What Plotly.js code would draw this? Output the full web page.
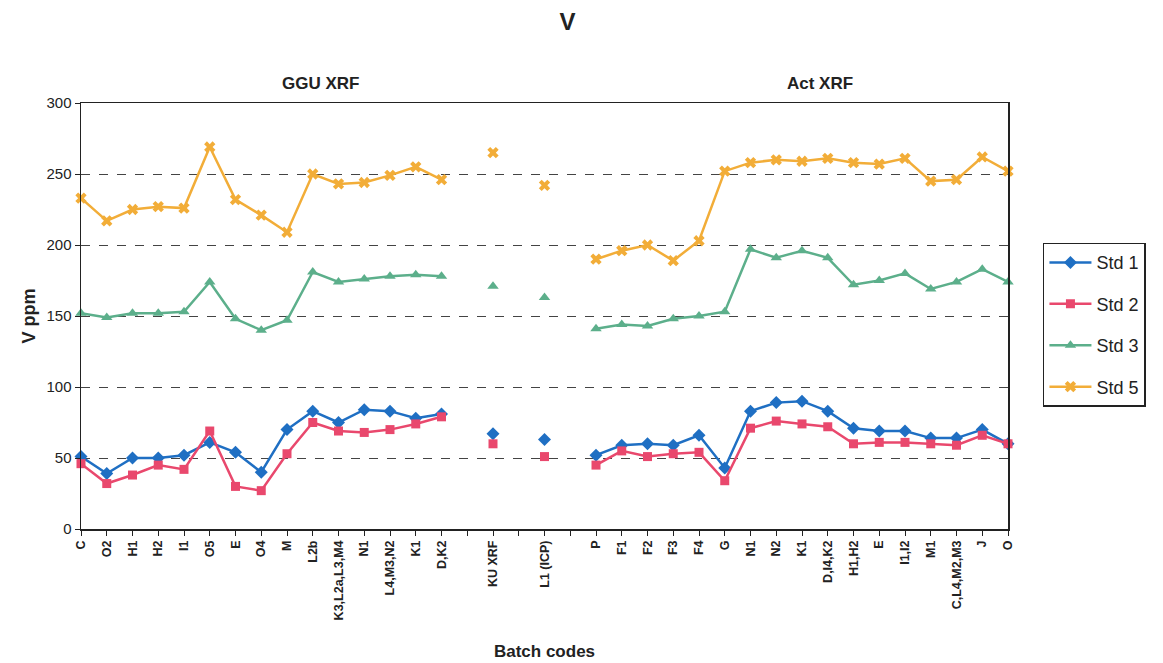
<!DOCTYPE html>
<html>
<head>
<meta charset="utf-8">
<script src="https://cdn.plot.ly/plotly-3.0.1.min.js"></script>
<style>html,body{margin:0;padding:0;background:#fff;}#chart{width:1163px;height:663px;}</style>
</head>
<body>
<div id="chart"></div>
<script>
// Batch code tick labels (empty strings are spacer slots)
const labels = ["C","O2","H1","H2","I1","O5","E","O4","M","L2b","K3,L2a,L3,M4","N1","L4,M3,N2","K1","D,K2",
  "","KU XRF","","L1 (ICP)","",
  "P","F1","F2","F3","F4","G","N1","N2","K1","D,I4,K2","H1,H2","E","I1,I2","M1","C,L4,M2,M3","J","O"];

const std1 = [51,39,50,50,52,61,54,40,70,83,75,84,83,78,81, null,67,null,63,null,
  52,59,60,59,66,43,83,89,90,83,71,69,69,64,64,70,60];
const std2 = [46,32,38,45,42,69,30,27,53,75,69,68,70,74,79, null,60,null,51,null,
  45,55,51,53,54,34,71,76,74,72,60,61,61,60,59,66,60];
const std3 = [152,149,152,152,153,174,148,140,147,181,174,176,178,179,178, null,171,null,163,null,
  141,144,143,148,150,153,197,191,196,191,172,175,180,169,174,183,174];
const std5 = [233,217,225,227,226,269,232,221,209,250,243,244,249,255,246, null,265,null,242,null,
  190,196,200,189,203,252,258,260,259,261,258,257,261,245,246,262,252];

const seriesNames = ["Std 1","Std 2","Std 3","Std 5"];
const seriesData = [std1, std2, std3, std5];
const colors = ["#1f6fc3","#e9486d","#5caf8b","#f2ad38"];
const symbols = ["diamond","square","triangle-up","x"];
const sizes = [10, 9, 10, 10];

const xs = labels.map((_, i) => i);
const font = "Liberation Sans, Arial, sans-serif";

const traces = seriesData.map((d, k) => ({
  x: xs, y: d, name: seriesNames[k], type: "scatter", mode: "lines+markers",
  connectgaps: false, cliponaxis: false, legendgroup: "g" + k,
  line: {color: colors[k], width: 2.5},
  marker: {color: colors[k], symbol: symbols[k], size: sizes[k], line: {width: 0}}
}));

const layout = {
  width: 1163, height: 663,
  margin: {l: 81, r: 155, t: 103, b: 134},
  paper_bgcolor: "#fff", plot_bgcolor: "#fff",
  font: {family: font, color: "#222"},
  title: {text: "<b>V</b>", font: {size: 24, family: font, color: "#222"}, x: 0.488, xanchor: "center", y: 0.967, yanchor: "middle", yref: "container"},
  xaxis: {
    range: [0, 36], tickmode: "array", tickvals: xs, ticktext: labels.map(s => s ? "<b>" + s + "</b>" : ""),
    tickangle: -90, tickfont: {size: 12.5, family: font, color: "#222"},
    ticks: "outside", ticklen: 5, tickcolor: "#222",
    showline: true, linecolor: "#222", linewidth: 1.5, mirror: true,
    showgrid: false, zeroline: false, automargin: false,
    title: {text: "<b>Batch codes</b>", font: {size: 17, family: font, color: "#222"}, standoff: 25}
  },
  yaxis: {
    range: [0, 300], dtick: 50, tick0: 0,
    tickfont: {size: 15, family: font, color: "#222"},
    ticks: "outside", ticklen: 5, tickcolor: "#222",
    showline: true, linecolor: "#222", linewidth: 1.5, mirror: true,
    showgrid: true, gridcolor: "#444", gridwidth: 1, griddash: "dash",
    zeroline: false, automargin: false,
    title: {text: "<b>V ppm</b>", font: {size: 18, family: font, color: "#222"}, standoff: 6}
  },
  legend: {
    x: 1.0377, y: 0.672, xanchor: "left", yanchor: "top",
    bgcolor: "#fff", bordercolor: "#222", borderwidth: 1.5,
    font: {size: 18, family: font, color: "#222"}, tracegroupgap: 15, itemwidth: 42
  },
  annotations: [
    {text: "<b>GGU XRF</b>", xref: "paper", yref: "paper", x: (320 - 81) / 927, y: (529 - 84) / 426, xanchor: "center", yanchor: "middle", showarrow: false, font: {size: 17, family: font, color: "#222"}},
    {text: "<b>Act XRF</b>", xref: "paper", yref: "paper", x: (820 - 81) / 927, y: (529 - 84) / 426, xanchor: "center", yanchor: "middle", showarrow: false, font: {size: 17, family: font, color: "#222"}}
  ],
  showlegend: true
};

Plotly.newPlot("chart", traces, layout, {displayModeBar: false, staticPlot: true});
</script>
</body>
</html>
